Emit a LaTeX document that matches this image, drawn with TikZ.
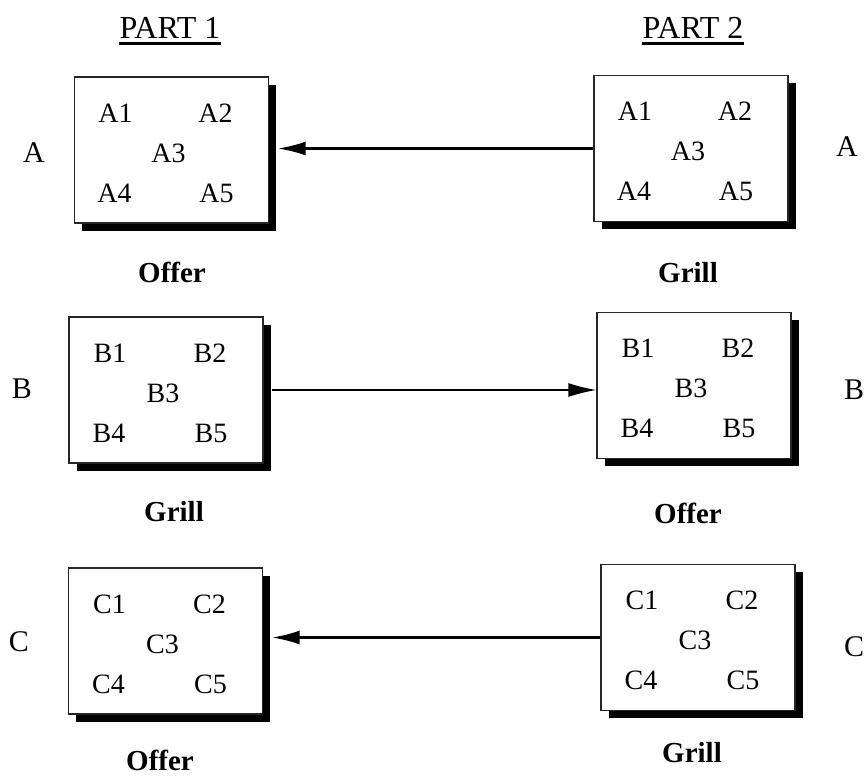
\documentclass[tikz,border=0pt]{standalone}
\usepackage{fontspec}
\setmainfont{Liberation Serif}
\usetikzlibrary{arrows.meta,shadows}
\tikzset{
  box/.style={draw=black!85, line width=1.3pt, fill=white, inner sep=0pt,
    minimum width=194pt, minimum height=146pt,
    general shadow={fill=black, shadow xshift=7.5pt, shadow yshift=-7.5pt}},
  cell/.style={inner sep=0pt, font=\fontsize{28}{30}\selectfont},
  caption/.style={inner sep=0pt, anchor=base, font=\fontsize{29}{31}\selectfont\bfseries},
  side/.style={inner sep=0pt, font=\fontsize{30}{32}\selectfont},
  head/.style={inner sep=0pt, anchor=base, font=\fontsize{32}{34}\selectfont},
  thickarrow/.style={line width=2.6pt, -{Latex[length=28pt,width=14pt]}},
  thinarrow/.style={line width=1.3pt, -{Latex[length=28pt,width=14pt]}},
}
\newcommand\fivecells[2]{%
  \node[cell] (#1-1) at ([shift={(-56,-37)}]#1.center) {#21};
  \node[cell] (#1-2) at ([shift={(44,-37)}]#1.center) {#22};
  \node[cell] (#1-3) at ([shift={(-3,3)}]#1.center) {#23};
  \node[cell] (#1-4) at ([shift={(-57,43)}]#1.center) {#24};
  \node[cell] (#1-5) at ([shift={(45,43)}]#1.center) {#25};
}
\begin{document}
\begin{tikzpicture}[x=1pt,y=-1pt]
\useasboundingbox (0,0) rectangle (866,776);
% headings
\node[head] (p1) at (170,38) {PART 1};
\node[head] (p2) at (693,38) {PART 2};
\draw[line width=3pt] ([yshift=-5.5pt]p1.base west) -- ([yshift=-5.5pt]p1.base east);
\draw[line width=3pt] ([yshift=-5.5pt]p2.base west) -- ([yshift=-5.5pt]p2.base east);
% boxes
\node[box] (al) at (171.5,150) {};
\node[box] (ar) at (691,148.5) {};
\node[box] (bl) at (166,390) {};
\node[box] (br) at (694,385.5) {};
\node[box] (cl) at (165.5,641) {};
\node[box] (cr) at (698,637.5) {};
\fivecells{al}{A}
\fivecells{ar}{A}
\fivecells{bl}{B}
\fivecells{br}{B}
\fivecells{cl}{C}
\fivecells{cr}{C}
% side letters
\node[side] (sal) at (34,153) {A};
\node[side] (sar) at (847,147) {A};
\node[side] (sbl) at (22,389) {B};
\node[side] (sbr) at (854,390) {B};
\node[side] (scl) at (19,642) {C};
\node[side] (scr) at (854,647) {C};
% captions
\node[caption] (cap1) at (172,282) {Offer};
\node[caption] (cap2) at (688,282) {Grill};
\node[caption] (cap3) at (174,521) {Grill};
\node[caption] (cap4) at (688,523) {Offer};
\node[caption] (cap5) at (160,770) {Offer};
\node[caption] (cap6) at (692,762) {Grill};
% connectors
\draw[thickarrow] (ar.west) -- ([xshift=8.5pt]al.east |- ar.west);
\draw[thinarrow] ([xshift=8.5pt]bl.east) -- (br.west |- bl.east);
\draw[thickarrow] (cr.west) -- ([xshift=8.5pt]cl.east |- cr.west);
\end{tikzpicture}
\end{document}
